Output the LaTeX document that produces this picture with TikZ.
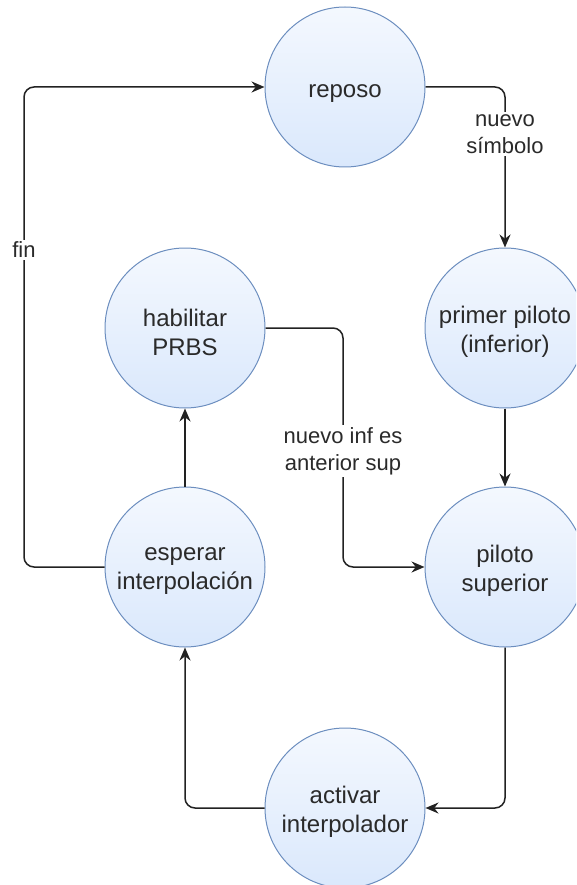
\documentclass[tikz,border=0pt]{standalone}
\usepackage{fontspec}
\setmainfont{Liberation Sans}
\usetikzlibrary{arrows.meta}
\definecolor{strk}{HTML}{6C8EBF}
\definecolor{fillb}{HTML}{DAE8FC}
\definecolor{ink}{HTML}{222222}
\definecolor{txt}{HTML}{2A2A2A}
\tikzset{
  state/.style={circle, draw=strk, line width=1pt, top color=white!70!fillb, bottom color=fillb,
    minimum size=160pt, inner sep=0pt},
  stxt/.style={align=center, text=txt, inner sep=0pt, font=\fontsize{24}{29}\selectfont},
  conn/.style={draw=ink, line width=1.5pt, rounded corners=10pt, -{Stealth[length=13pt,width=11pt]}},
  lbl/.style={fill=white, inner sep=2pt, align=center, text=txt, font=\fontsize{22}{27}\selectfont}
}
\begin{document}
\begin{tikzpicture}[x=1pt,y=-1pt]
\clip (0,0) rectangle (576,885);
\useasboundingbox (0,0) rectangle (576,885);
\node[state] (rep) at (345,87) {};
\node[state] (pri) at (505,328) {};
\node[state] (sup) at (505,567) {};
\node[state] (hab) at (185,328) {};
\node[state] (esp) at (185,567) {};
\node[state] (act) at (345,808) {};
\node[stxt] (rept) at ([yshift=-7pt]rep.center) {reposo};
\node[stxt] (prit) at ([yshift=-4pt]pri.center) {primer piloto\\(inferior)};
\node[stxt] (supt) at ([yshift=-4pt]sup.center) {piloto\\superior};
\node[stxt] (habt) at ([yshift=-4pt]hab.center) {habilitar\\PRBS};
\node[stxt] (espt) at ([yshift=-4pt]esp.center) {esperar\\interpolación};
\node[stxt] (actt) at ([yshift=-4pt]act.center) {activar\\interpolador};
\coordinate (c1) at (505,87);
\coordinate (c2) at (505,808);
\coordinate (c3) at (185,808);
\coordinate (c4) at (343,328);
\coordinate (c5) at (343,567);
\coordinate (c6) at (24,567);
\coordinate (c7) at (24,87);
\draw[conn] (rep.east) -- (c1) -- (pri.north);
\draw[conn] (pri.south) -- (sup.north);
\draw[conn] (sup.south) -- (c2) -- (act.east);
\draw[conn] (act.west) -- (c3) -- (esp.south);
\draw[conn] (esp.north) -- (hab.south);
\draw[conn] (hab.east) -- (c4) -- (c5) -- (sup.west);
\draw[conn] (esp.west) -- (c6) -- (c7) -- (rep.west);
\node[lbl] (l1) at (505,134) {nuevo\\símbolo};
\node[lbl] (l2) at (343,451) {nuevo inf es\\anterior sup};
\node[lbl] (l3) at (24,250) {fin};
\end{tikzpicture}
\end{document}
